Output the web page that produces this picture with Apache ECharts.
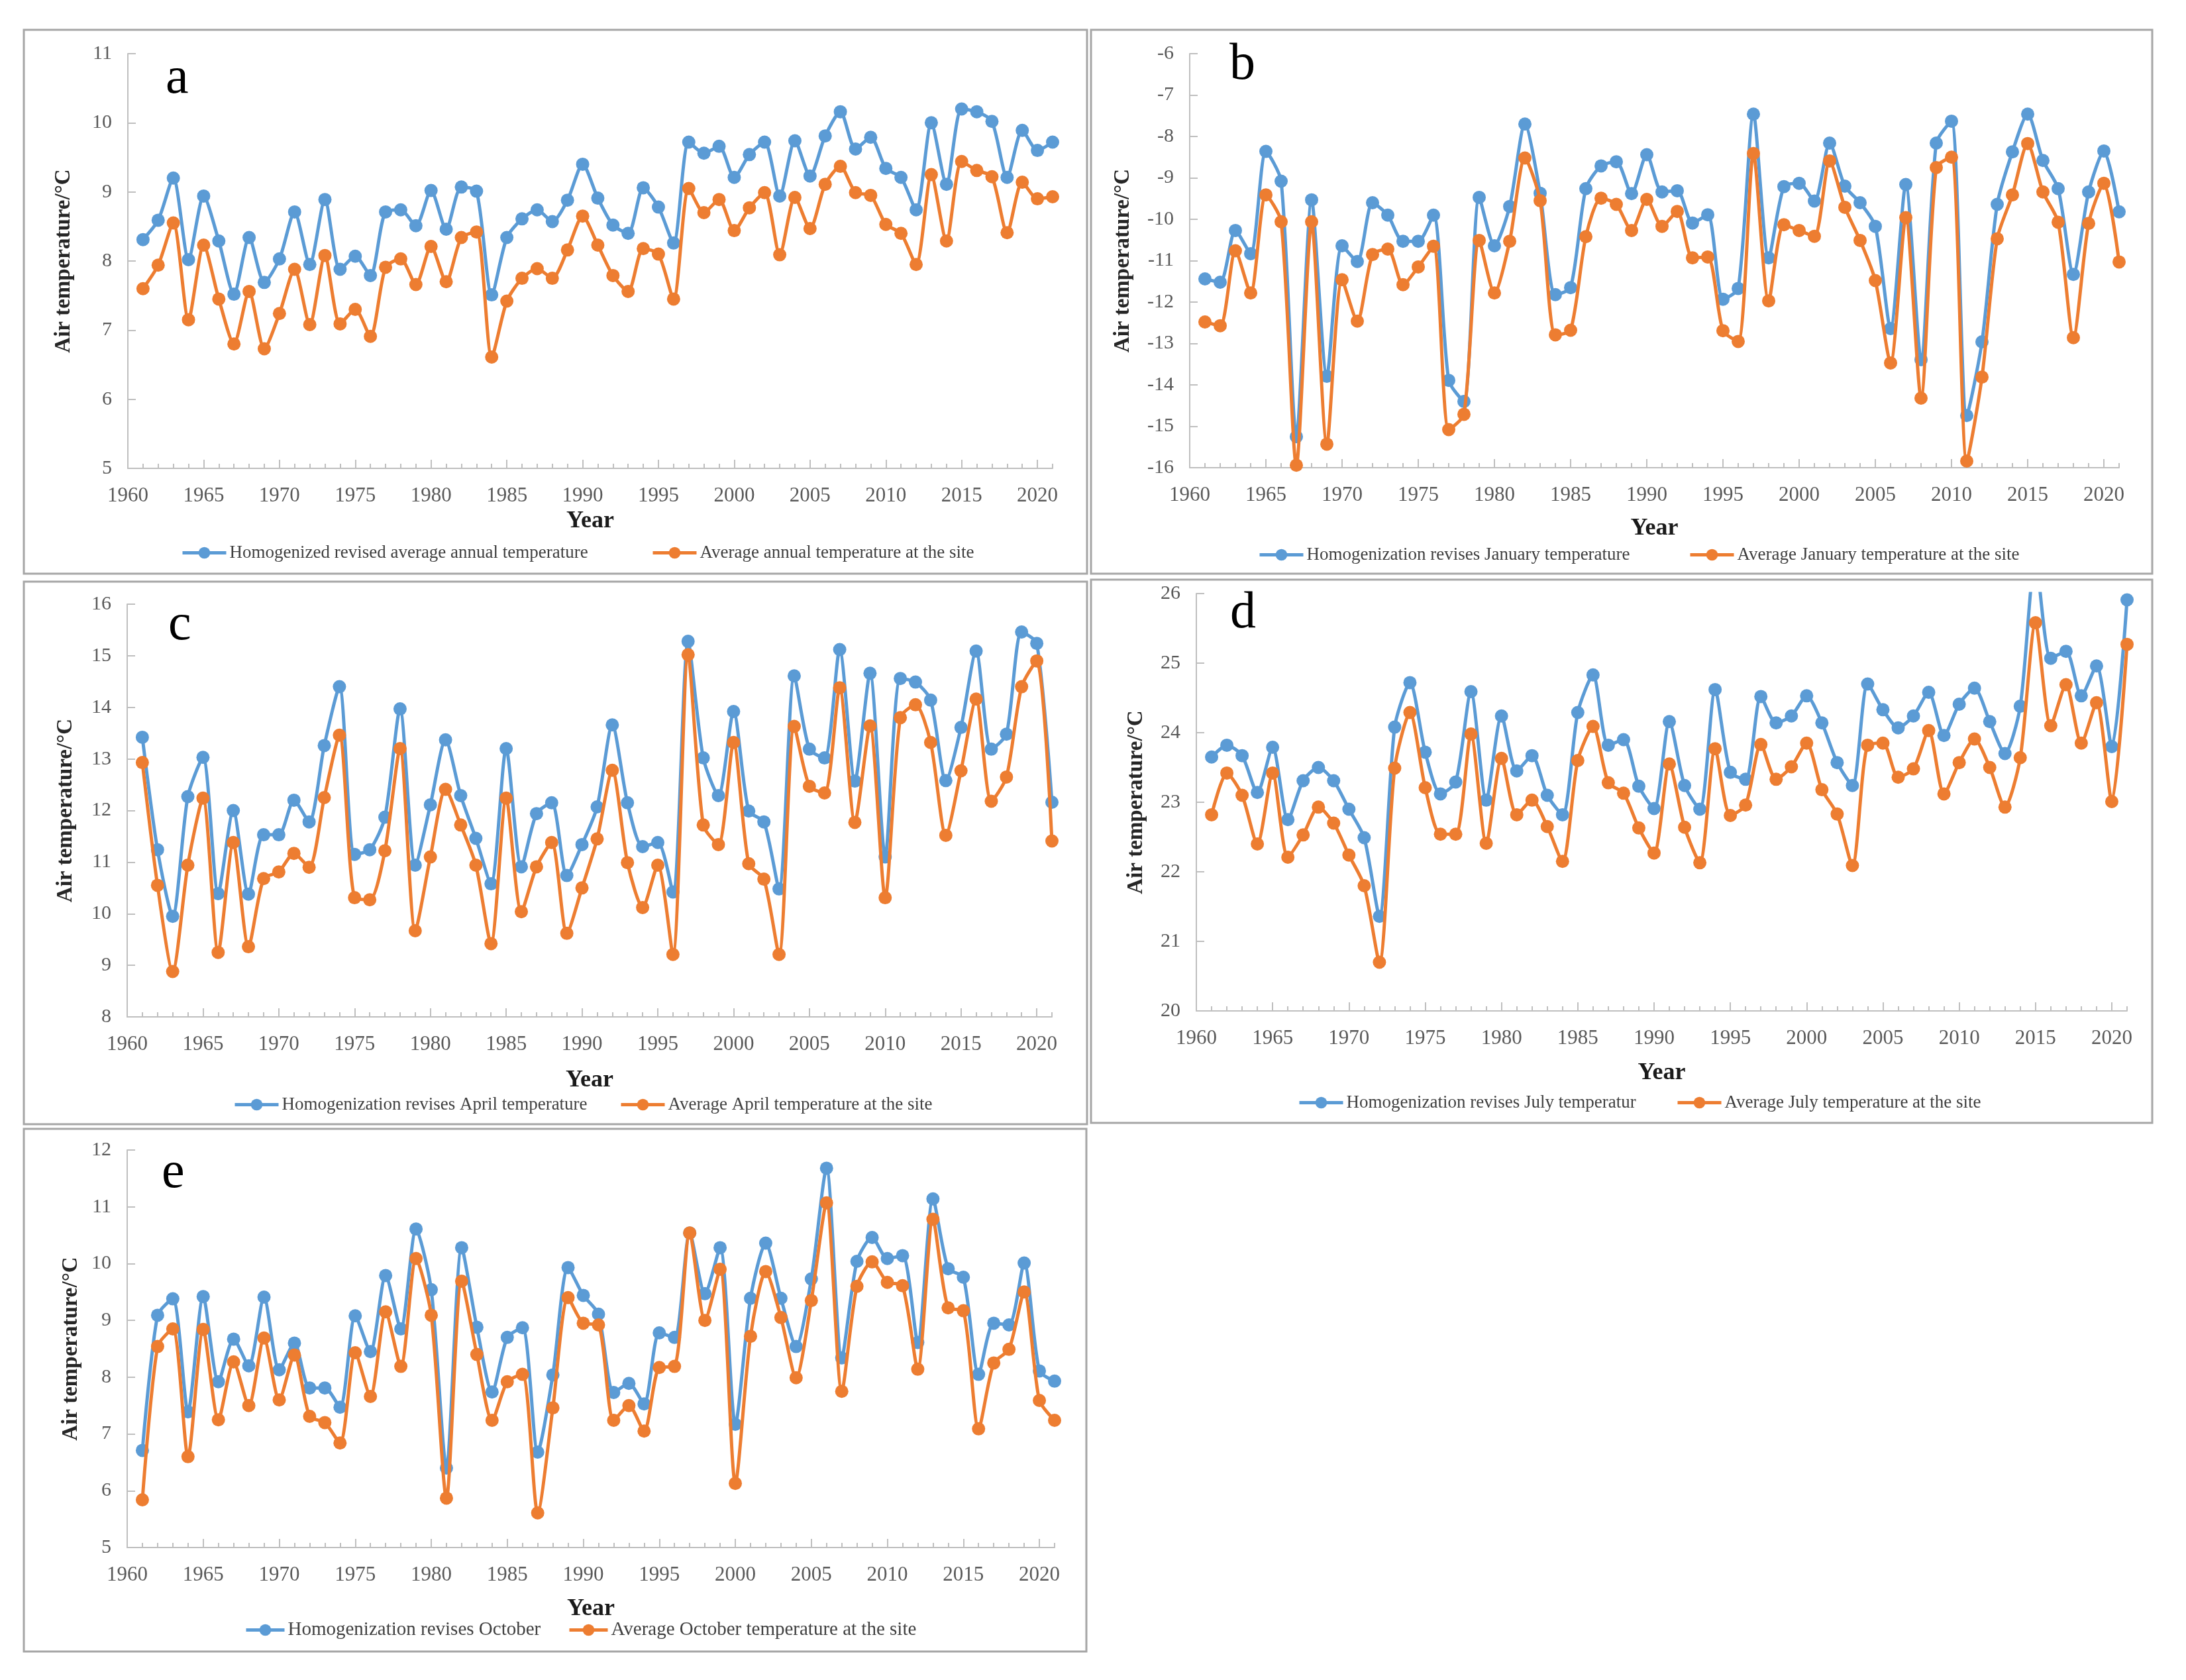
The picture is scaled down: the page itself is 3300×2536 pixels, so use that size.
<!DOCTYPE html>
<html lang="en">
<head>
<meta charset="UTF-8">
<title>Homogenized vs site air temperature</title>
<script src="https://cdn.jsdelivr.net/npm/echarts@6.0.0/dist/echarts.min.js"></script>
<style>
    html, body { margin: 0; padding: 0; background: #fff; }
    #chart { width: 3300px; height: 2536px; }
</style>
</head>
<body>
<div id="chart"></div>
<script>
// years of observation (x values)
var years = [1961,1962,1963,1964,1965,1966,1967,1968,1969,1970,
             1971,1972,1973,1974,1975,1976,1977,1978,1979,1980,
             1981,1982,1983,1984,1985,1986,1987,1988,1989,1990,
             1991,1992,1993,1994,1995,1996,1997,1998,1999,2000,
             2001,2002,2003,2004,2005,2006,2007,2008,2009,2010,
             2011,2012,2013,2014,2015,2016,2017,2018,2019,2020,2021];
// labelled years on the x axis
var majorYears = [1960,1965,1970,1975,1980,1985,1990,1995,2000,2005,2010,2015,2020];

// a: annual
var annualHomog = [8.31,8.59,9.20,8.02,8.94,8.29,7.52,8.34,7.69,8.03,8.71,7.95,8.89,7.88,8.07,7.79,8.71,8.74,8.51,9.02,8.46,9.07,9.01,7.51,8.34,8.61,8.74,8.57,8.88,9.40,
                   8.91,8.52,8.40,9.06,8.78,8.26,9.72,9.56,9.66,9.21,9.54,9.72,8.94,9.74,9.23,9.81,10.16,9.62,9.79,9.34,9.21,8.74,10.00,9.11,10.20,10.16,10.02,9.21,9.89,9.60,9.72];
var annualSite = [7.60,7.94,8.55,7.15,8.23,7.45,6.80,7.56,6.73,7.24,7.88,7.08,8.08,7.09,7.30,6.91,7.91,8.03,7.66,8.21,7.70,8.34,8.42,6.61,7.42,7.75,7.89,7.75,8.16,8.65,
                  8.23,7.79,7.56,8.18,8.10,7.45,9.05,8.70,8.89,8.44,8.77,8.99,8.09,8.92,8.47,9.11,9.37,8.99,8.95,8.53,8.40,7.95,9.25,8.29,9.44,9.31,9.22,8.41,9.14,8.90,8.93];

// b: January
var janHomog = [-11.44,-11.52,-10.27,-10.83,-8.36,-9.08,-15.25,-9.53,-13.79,-10.64,-11.02,-9.60,-9.90,-10.53,-10.53,-9.90,-13.89,-14.40,-9.47,-10.64,-9.69,-7.70,-9.37,-11.82,-11.65,-9.26,-8.71,-8.61,-9.38,-8.44,
                -9.34,-9.31,-10.09,-9.89,-11.93,-11.67,-7.46,-10.93,-9.21,-9.13,-9.56,-8.16,-9.20,-9.60,-10.17,-12.64,-9.16,-13.39,-8.16,-7.63,-14.74,-12.96,-9.64,-8.37,-7.46,-8.58,-9.26,-11.33,-9.34,-8.35,-9.82];
var janSite = [-12.48,-12.57,-10.76,-11.78,-9.41,-10.06,-15.94,-10.06,-15.43,-11.46,-12.46,-10.85,-10.72,-11.58,-11.15,-10.65,-15.08,-14.71,-10.51,-11.78,-10.53,-8.52,-9.55,-12.79,-12.68,-10.42,-9.49,-9.64,-10.27,-9.52,
               -10.17,-9.81,-10.93,-10.91,-12.69,-12.95,-8.41,-11.97,-10.13,-10.27,-10.41,-8.59,-9.71,-10.51,-11.48,-13.47,-9.96,-14.32,-8.75,-8.50,-15.84,-13.81,-10.47,-9.41,-8.17,-9.34,-10.07,-12.86,-10.10,-9.13,-11.03];

// c: April
var aprHomog = [13.42,11.24,9.95,12.27,13.03,10.39,12.00,10.38,11.53,11.53,12.20,11.78,13.26,14.40,11.15,11.24,11.87,13.97,10.94,12.11,13.37,12.29,11.46,10.58,13.20,10.91,11.94,12.15,10.74,11.34,
                12.07,13.66,12.15,11.30,11.38,10.42,15.28,13.02,12.29,13.92,11.99,11.78,10.48,14.61,13.19,13.02,15.12,12.57,14.66,11.10,14.56,14.49,14.14,12.58,13.61,15.09,13.19,13.48,15.46,15.24,12.16];
var aprSite = [12.93,10.55,8.88,10.94,12.24,9.25,11.38,9.36,10.68,10.81,11.17,10.90,12.25,13.46,10.31,10.27,11.22,13.20,9.67,11.10,12.41,11.72,10.94,9.42,12.24,10.04,10.91,11.38,9.62,10.50,
               11.45,12.78,10.99,10.12,10.94,9.21,15.02,11.72,11.34,13.32,10.97,10.67,9.21,13.63,12.47,12.34,14.38,11.77,13.64,10.31,13.80,14.05,13.32,11.52,12.77,14.16,12.18,12.65,14.40,14.90,11.41];

// d: July
var julHomog = [23.65,23.82,23.67,23.14,23.79,22.75,23.31,23.50,23.31,22.90,22.49,21.36,24.08,24.72,23.72,23.12,23.29,24.59,23.03,24.24,23.45,23.67,23.10,22.82,24.29,24.83,23.82,23.90,23.23,22.91,
                24.16,23.24,22.90,24.62,23.43,23.33,24.52,24.14,24.24,24.53,24.14,23.57,23.24,24.70,24.33,24.07,24.24,24.58,23.96,24.41,24.64,24.16,23.70,24.38,26.5,25.07,25.17,24.53,24.96,23.80,25.91];
var julSite = [22.82,23.42,23.10,22.40,23.42,22.21,22.53,22.93,22.70,22.24,21.80,20.70,23.49,24.29,23.21,22.54,22.54,23.98,22.41,23.63,22.82,23.03,22.65,22.15,23.60,24.09,23.28,23.13,22.63,22.27,
               23.55,22.64,22.13,23.77,22.81,22.96,23.83,23.33,23.51,23.85,23.18,22.83,22.09,23.82,23.85,23.36,23.48,24.03,23.12,23.57,23.91,23.50,22.93,23.64,25.58,24.10,24.69,23.85,24.43,23.01,25.27];

// e: October
var octHomog = [6.71,9.09,9.38,7.39,9.42,7.92,8.67,8.20,9.41,8.13,8.60,7.81,7.81,7.47,9.08,8.45,9.79,8.85,10.61,9.54,6.40,10.28,8.88,7.74,8.70,8.87,6.68,8.04,9.93,9.44,
                9.11,7.73,7.89,7.53,8.78,8.70,10.54,9.47,10.28,7.17,9.39,10.36,9.39,8.54,9.73,11.68,8.34,10.04,10.46,10.09,10.14,8.61,11.14,9.91,9.76,8.05,8.95,8.92,10.01,8.11,7.93];
var octSite = [5.84,8.54,8.85,6.60,8.84,7.25,8.27,7.50,8.69,7.60,8.39,7.31,7.20,6.84,8.43,7.66,9.15,8.19,10.09,9.09,5.87,9.69,8.40,7.24,7.92,8.05,5.61,7.46,9.40,8.95,
               8.92,7.24,7.50,7.05,8.17,8.19,10.54,9.00,9.90,6.13,8.72,9.86,9.05,7.99,9.35,11.07,7.75,9.60,10.03,9.67,9.61,8.14,10.78,9.22,9.17,7.09,8.25,8.49,9.50,7.59,7.24];

var BLUE = '#5b9bd5', ORANGE = '#ed7d31';
var FONT = 'Liberation Serif';
var AXIS_GRAY = '#bfbfbf';

// layout of the five panels (pixels)
var panels = [
    {letter: 'a', box: [36, 45, 1605, 821], grid: [193, 81, 1396, 626], y: [5, 11],
     names: ['Homogenized revised average annual temperature', 'Average annual temperature at the site'],
     homog: annualHomog, site: annualSite, letterPos: [250, 120], yGap: 80, xGap: 62,
     legendTop: 831, legendLeft: [268, 978], legendFont: 27, iconW: 66},
    {letter: 'b', box: [1647, 45, 1602, 821], grid: [1796, 81, 1403, 625], y: [-16, -6],
     names: ['Homogenization revises January temperature', 'Average January temperature at the site'],
     homog: janHomog, site: janSite, letterPos: [1856, 99], yGap: 84, xGap: 74,
     legendTop: 834, legendLeft: [1894, 2544], legendFont: 27, iconW: 66},
    {letter: 'c', box: [36, 878, 1605, 819], grid: [192, 912, 1396, 623], y: [8, 16],
     names: ['Homogenization revises April temperature', 'Average April temperature at the site'],
     homog: aprHomog, site: aprSite, letterPos: [254, 945], yGap: 76, xGap: 78,
     legendTop: 1664, legendLeft: [347, 930], legendFont: 27, iconW: 66},
    {letter: 'd', box: [1647, 875, 1602, 820], grid: [1806, 896, 1405, 630], y: [20, 26],
     names: ['Homogenization revises July temperatur', 'Average July temperature at the site'],
     homog: julHomog, site: julSite, letterPos: [1857, 927], yGap: 74, xGap: 76,
     legendTop: 1661, legendLeft: [1954, 2525], legendFont: 27, iconW: 66},
    {letter: 'e', box: [36, 1704, 1604, 789], grid: [192, 1736, 1400, 600], y: [5, 12],
     names: ['Homogenization revises October', 'Average October temperature at the site'],
     homog: octHomog, site: octSite, letterPos: [244, 1772], yGap: 68, xGap: 75,
     legendTop: 2456, legendLeft: [364, 852], legendFont: 29, iconW: 58}
];

function pairs(vals) {
    return years.map(function (yr, k) { return [yr, vals[k]]; });
}

var grids = [], xAxes = [], yAxes = [], series = [], legends = [], graphics = [];

panels.forEach(function (p, i) {
    graphics.push({
        type: 'rect', silent: true,
        shape: {x: p.box[0], y: p.box[1], width: p.box[2], height: p.box[3]},
        style: {fill: 'none', stroke: '#a6a6a6', lineWidth: 3}
    });
    graphics.push({
        type: 'text', silent: true, x: p.letterPos[0], y: p.letterPos[1],
        style: {text: p.letter, font: '78px "Liberation Serif"', fill: '#000',
                align: 'left', verticalAlign: 'middle'}
    });

    grids.push({left: p.grid[0], top: p.grid[1], width: p.grid[2], height: p.grid[3]});

    xAxes.push({
        gridIndex: i, type: 'value', min: 1960, max: 2021, interval: 1,
        position: 'bottom',
        axisLine: {show: true, lineStyle: {color: AXIS_GRAY, width: 2}},
        axisTick: {show: true, inside: true, length: 7, lineStyle: {color: AXIS_GRAY, width: 2}},
        axisLabel: {
            margin: 26, color: '#595959', fontFamily: FONT, fontSize: 31,
            formatter: function (v) { return majorYears.indexOf(Math.round(v)) >= 0 ? String(Math.round(v)) : ''; }
        },
        splitLine: {show: false},
        name: 'Year', nameLocation: 'middle', nameGap: p.xGap,
        nameTextStyle: {fontFamily: FONT, fontWeight: 'bold', fontSize: 36, color: '#1a1a1a'}
    });
    // longer ticks at the labelled years
    xAxes.push({
        gridIndex: i, type: 'value', min: 1960, max: 2021, position: 'bottom',
        axisLine: {show: false},
        axisTick: {show: true, inside: true, length: 13, customValues: majorYears,
                   lineStyle: {color: AXIS_GRAY, width: 2}},
        axisLabel: {show: false},
        splitLine: {show: false}
    });

    yAxes.push({
        gridIndex: i, type: 'value', min: p.y[0], max: p.y[1], interval: 1,
        axisLine: {show: true, lineStyle: {color: AXIS_GRAY, width: 2}},
        axisTick: {show: true, inside: true, length: 12, lineStyle: {color: AXIS_GRAY, width: 2}},
        axisLabel: {margin: 24, color: '#595959', fontFamily: FONT, fontSize: 30},
        splitLine: {show: false},
        name: 'Air temperature/\u00B0C', nameLocation: 'middle', nameGap: p.yGap,
        nameTextStyle: {fontFamily: FONT, fontWeight: 'bold', fontSize: 33, color: '#262626'}
    });

    [[p.names[0], p.homog, BLUE], [p.names[1], p.site, ORANGE]].forEach(function (s, k) {
        series.push({
            type: 'line', name: s[0], xAxisIndex: 2 * i, yAxisIndex: i,
            data: pairs(s[1]), symbol: 'circle', symbolSize: 20, smooth: 0.25,
            clip: true, z: 2 + k,
            lineStyle: {color: s[2], width: 5},
            itemStyle: {color: s[2]}
        });
        legends.push({
            left: p.legendLeft[k], top: p.legendTop - 15, data: [s[0]],
            itemWidth: p.iconW, itemHeight: 22, selectedMode: false,
            lineStyle: {width: 5},
            textStyle: {fontFamily: FONT, fontSize: p.legendFont, color: '#404040'}
        });
    });
});

var chart = echarts.init(document.getElementById('chart'), null, {renderer: 'canvas'});
chart.setOption({
    backgroundColor: '#fff',
    animation: false,
    grid: grids,
    xAxis: xAxes,
    yAxis: yAxes,
    legend: legends,
    graphic: graphics,
    series: series
});
</script>
</body>
</html>
